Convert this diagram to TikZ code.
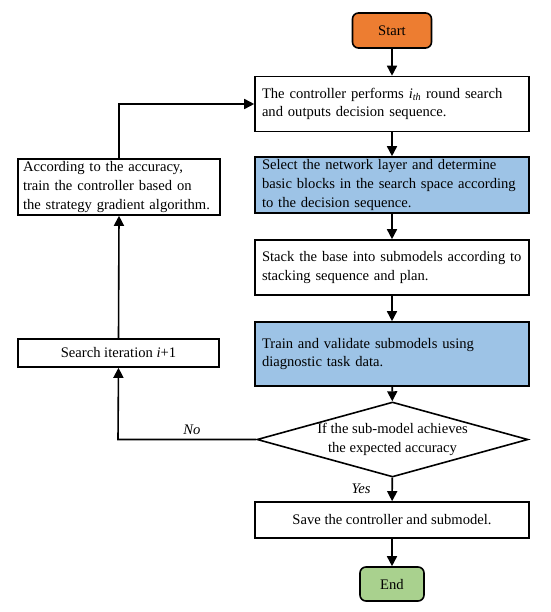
\documentclass[tikz,border=0pt]{standalone}
\usepackage{fontspec}
\setmainfont{Liberation Serif}
\usetikzlibrary{arrows.meta,shapes.geometric}
\definecolor{startor}{HTML}{ED7D31}
\definecolor{stepblue}{HTML}{9DC3E6}
\definecolor{endgreen}{HTML}{A9D18E}
\newcommand{\figfont}{\fontsize{14.6}{18.7}\selectfont}
\tikzset{
  box/.style={draw, line width=1.6pt, inner sep=0pt, fill=white},
  mainbox/.style={box, inner xsep=7pt, text width=260pt, align=left},
  leftbox/.style={box, inner xsep=5pt, text width=192pt, align=left},
  term/.style={draw, line width=1.6pt, rounded corners=6pt, inner sep=0pt},
  conn/.style={line width=1.6pt, -{Triangle[length=10pt,width=10pt]}},
  lbl/.style={font=\figfont\itshape},
}
\begin{document}
\begin{tikzpicture}[x=1pt,y=-1pt, font=\figfont]
\useasboundingbox (0,0) rectangle (550,612);
\node[term, fill=startor, minimum width=79pt, minimum height=35pt] (start) at (392,30.5) {Start};
\node[mainbox, minimum height=55pt] (b1) at (392,104) {The controller performs \textit{i}\textsubscript{\textit{th}} round search\\and outputs decision sequence.};
\node[mainbox, fill=stepblue, minimum height=56pt] (b2) at (392,185) {Select the network layer and determine\\basic blocks in the search space according\\to the decision sequence.};
\node[mainbox, minimum height=55pt] (b3) at (392,267.5) {Stack the base into submodels according to\\stacking sequence and plan.};
\node[mainbox, fill=stepblue, minimum height=64pt] (b4) at (392,354) {Train and validate submodels using\\diagnostic task data.};
\node[diamond, draw, line width=1.6pt, minimum width=271pt, minimum height=75pt, inner sep=0pt] (dec) at (392.5,439.5) {};
\node[align=center] (dect) at (dec) {If the sub-model achieves\\the expected accuracy};
\node[box, minimum width=274pt, minimum height=36pt] (save) at (392,520) {Save the controller and submodel.};
\node[term, fill=endgreen, minimum width=64pt, minimum height=34pt] (end) at (392,584) {End};
\node[leftbox, minimum height=56pt] (acc) at (119,187) {According to the accuracy,\\train the controller based on\\the strategy gradient algorithm.};
\node[box, minimum width=201pt, minimum height=28pt] (srch) at (118.5,353) {Search iteration \textit{i}+1};
\coordinate (nocorner) at (118,439.5);
\draw[conn] (start) -- (b1);
\draw[conn] (b1) -- (b2);
\draw[conn] (b2) -- (b3);
\draw[conn] (b3) -- (b4);
\draw[conn] (b4) -- (dec);
\draw[conn] (dec) -- (save);
\draw[conn] (save) -- (end);
\draw[conn] (dec.west) -- (nocorner) -- (srch.south);
\draw[conn] (srch.north) -- (acc.south);
\draw[conn] (acc.north) |- (b1.west);
\node[lbl] (nolbl) at (192,430) {No};
\node[lbl] (yeslbl) at (361,489) {Yes};
\end{tikzpicture}
\end{document}
